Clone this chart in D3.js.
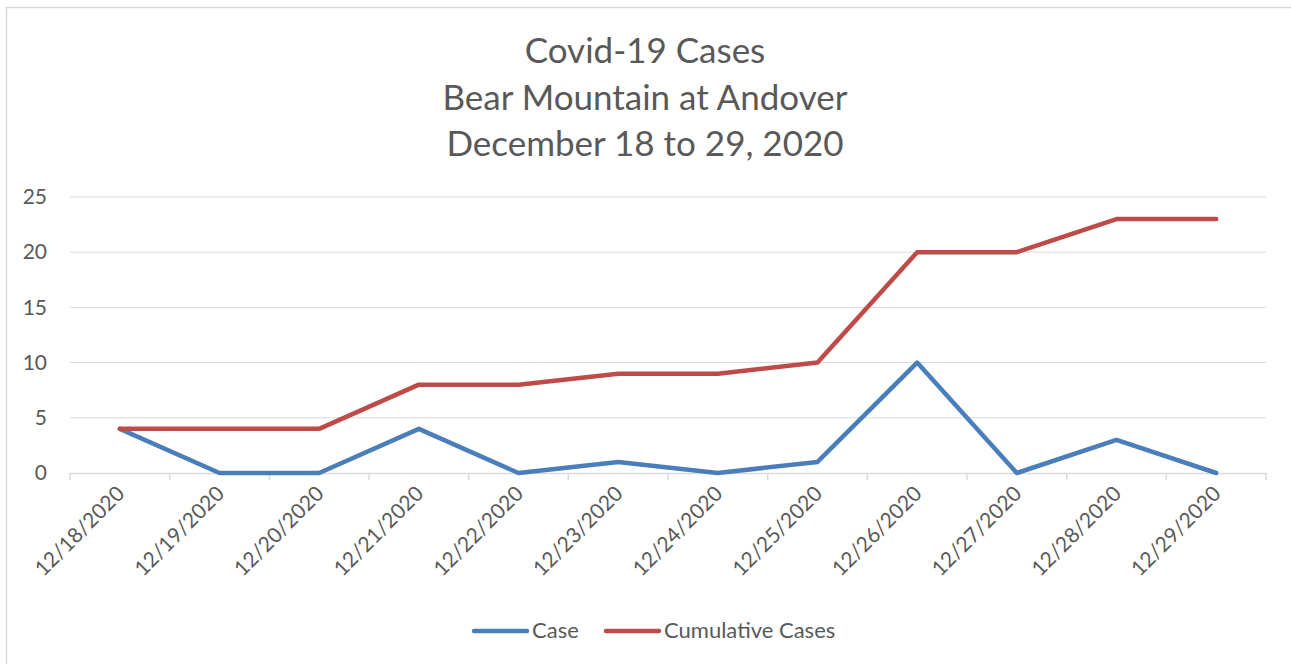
<!DOCTYPE html>
<html><head><meta charset="utf-8">
<script src="https://cdn.jsdelivr.net/npm/d3@7"></script>
<style>body{margin:0;background:#fff;}svg{display:block;}</style>
</head><body>
<svg id="c" width="1291" height="664"></svg>
<script>
const dates = ["12/18/2020","12/19/2020","12/20/2020","12/21/2020","12/22/2020","12/23/2020","12/24/2020","12/25/2020","12/26/2020","12/27/2020","12/28/2020","12/29/2020"];
const caseValues = [4,0,0,4,0,1,0,1,10,0,3,0];
const cumulativeValues = [4,4,4,8,8,9,9,10,20,20,23,23];
const yTicks = [0,5,10,15,20,25];
const titleLines = ["Covid-19 Cases","Bear Mountain at Andover","December 18 to 29, 2020"];
const seriesNames = ["Case","Cumulative Cases"];
const colors = ["#4a7ebb","#be4b48"];

const svg = d3.select("#c");
const font = "Lato, 'Open Sans', sans-serif";
const textColor = "#595959";

svg.append("rect").attr("x",6.5).attr("y",7.5).attr("width",1300).attr("height",700)
  .attr("fill","#fff").attr("stroke","#d9d9d9").attr("stroke-width",1.5);

const x = d3.scaleBand().domain(dates).range([70,1266]);
const y = d3.scaleLinear().domain([0,25]).range([473,197]);

svg.append("g").selectAll("line").data(yTicks.filter(d=>d>0)).join("line")
  .attr("x1",70).attr("x2",1266).attr("y1",d=>y(d)).attr("y2",d=>y(d))
  .attr("stroke","#d9d9d9").attr("stroke-width",1);

const yAxis = d3.axisLeft(y).tickValues(yTicks).tickSize(0).tickPadding(23);
const gy = svg.append("g").attr("transform","translate(70,0)").call(yAxis);
gy.select(".domain").remove();
gy.selectAll("text").attr("font-family",font).attr("font-size",21).attr("fill",textColor);

const xAxis = d3.axisBottom(x).tickSize(0).tickPadding(0);
const gx = svg.append("g").attr("transform","translate(0,473)").call(xAxis);
gx.select(".domain").attr("stroke","#d9d9d9").attr("stroke-width",1.5);
gx.selectAll(".tick line").remove();
const bounds = dates.map(d=>x(d)).concat([x.range()[1]]);
svg.append("g").selectAll("line").data(bounds).join("line")
  .attr("x1",d=>d).attr("x2",d=>d).attr("y1",473).attr("y2",480)
  .attr("stroke","#d9d9d9").attr("stroke-width",1.5);
gx.selectAll(".tick text")
  .attr("font-family",font).attr("font-size",21).attr("fill",textColor)
  .attr("text-anchor","end").attr("dy",0)
  .attr("transform","translate(6,22) rotate(-45)");

const line = d3.line().x((d,i)=>x(dates[i])+x.bandwidth()/2).y(d=>y(d));
[caseValues,cumulativeValues].forEach((vals,k)=>{
  svg.append("path").datum(vals).attr("d",line).attr("fill","none")
    .attr("stroke",colors[k]).attr("stroke-width",4.5)
    .attr("stroke-linejoin","round").attr("stroke-linecap","round");
});

svg.append("g").selectAll("text").data(titleLines).join("text")
  .attr("x",645).attr("y",(d,i)=>63+i*46.5).attr("text-anchor","middle")
  .attr("font-family",font).attr("font-size",35).attr("fill",textColor).text(d=>d);

const legX = [474,606];
const lg = svg.append("g");
seriesNames.forEach((n,i)=>{
  lg.append("line").attr("x1",legX[i]).attr("x2",legX[i]+53).attr("y1",631).attr("y2",631)
    .attr("stroke",colors[i]).attr("stroke-width",4.5).attr("stroke-linecap","round");
  lg.append("text").attr("x",legX[i]+58).attr("y",638).attr("font-family",font)
    .attr("font-size",22).attr("fill",textColor).text(n);
});
</script>
</body></html>
